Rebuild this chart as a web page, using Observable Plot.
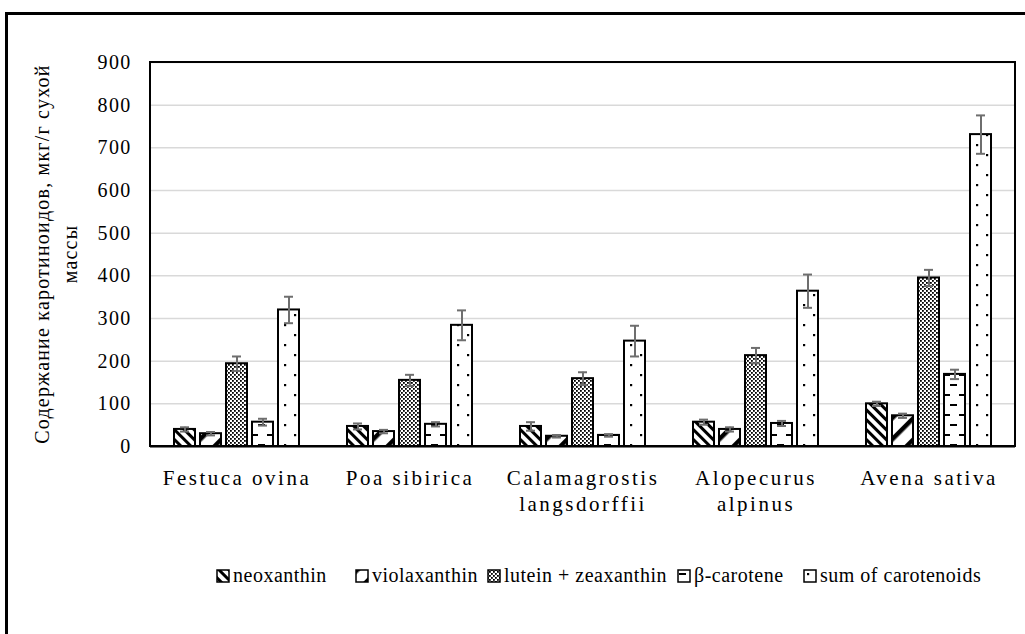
<!DOCTYPE html>
<html>
<head>
<meta charset="utf-8">
<script src="https://cdn.jsdelivr.net/npm/d3@7"></script>
<script src="https://cdn.jsdelivr.net/npm/@observablehq/plot@0.6"></script>
<style>
  html, body { margin: 0; padding: 0; background: #fff; }
  body { width: 1025px; height: 634px; position: relative; overflow: hidden; font-family: "Liberation Serif", "Times New Roman", serif; }
  #frame { position: absolute; left: 5px; top: 12px; width: 1100px; height: 700px; border-left: 3px solid #000; border-top: 3px solid #000; }
  #chart { position: absolute; left: 0; top: 0; }
  #chart svg, #chart svg text { font-family: "Liberation Serif", "Times New Roman", serif !important; }
  #ytitle { position: absolute; left: 56px; top: 254px; width: 520px; transform: translate(-50%, -50%) rotate(-90deg); text-align: center; font-size: 20px; letter-spacing: 1.2px; line-height: 28px; color: #000; white-space: nowrap; }
  .leg { position: absolute; top: 564px; font-family: "Liberation Serif", "Times New Roman", serif; font-size: 20px; letter-spacing: 0.5px; color: #000; white-space: nowrap; display: flex; align-items: center; }
  .leg svg { margin-right: 3px; }
</style>
</head>
<body>
<div id="frame"></div>
<div id="chart"></div>
<div id="ytitle">Содержание каротиноидов, мкг/г сухой<br>массы</div>
<div id="legend"></div>
<script>
// ---- data ----
const species = ["Festuca ovina", "Poa sibirica", "Calamagrostis langsdorffii", "Alopecurus alpinus", "Avena sativa"];
const speciesLabels = ["Festuca ovina", "Poa sibirica", "Calamagrostis\nlangsdorffii", "Alopecurus\nalpinus", "Avena sativa"];
const series = ["neoxanthin", "violaxanthin", "lutein + zeaxanthin", "β-carotene", "sum of carotenoids"];
const neoxanthin = [40, 47, 47, 57, 100];
const neoxanthinErr = [5, 7, 10, 6, 5];
const violaxanthin = [30, 35, 24, 40, 72];
const violaxanthinErr = [4, 4, 3, 5, 5];
const luteinZeaxanthin = [194, 155, 159, 213, 395];
const luteinZeaxanthinErr = [17, 13, 15, 18, 19];
const betaCarotene = [57, 52, 26, 54, 169];
const betaCaroteneErr = [8, 5, 3, 6, 11];
const sumCarotenoids = [320, 284, 247, 364, 731];
const sumCarotenoidsErr = [31, 35, 36, 39, 45];
const yTicks = [0, 100, 200, 300, 400, 500, 600, 700, 800, 900];

const values = [neoxanthin, violaxanthin, luteinZeaxanthin, betaCarotene, sumCarotenoids];
const errors = [neoxanthinErr, violaxanthinErr, luteinZeaxanthinErr, betaCaroteneErr, sumCarotenoidsErr];
const patternIds = ["p-neo", "p-vio", "p-lut", "p-beta", "p-sum"];

const data = [];
species.forEach((s, i) => series.forEach((k, j) => data.push({
  species: s, series: k, value: values[j][i], err: errors[j][i], fill: `url(#${patternIds[j]})`
})));
const labelOf = new Map(species.map((s, i) => [s, speciesLabels[i]]));

const W = 1025, H = 540, ML = 150, MR = 10, MT = 62, MB = 94;
const errColor = "#6e6e6e";
const FONT = "'Liberation Serif', 'Times New Roman', serif";

const svg = Plot.plot({
  width: W, height: H,
  marginLeft: ML, marginRight: MR, marginTop: MT, marginBottom: MB,
  style: { fontFamily: FONT, fontSize: "20px", color: "#000", background: "transparent", overflow: "visible" },
  fx: { domain: species, padding: 0, label: null },
  x: { domain: series, paddingInner: 0.176, paddingOuter: 0.83, axis: null },
  y: { domain: [0, 900], label: null },
  color: { type: "identity" },
  marks: [
    Plot.gridY(yTicks, { stroke: "#d9d9d9", strokeOpacity: 1, strokeWidth: 1.5 }),
    Plot.axisY(yTicks, { tickSize: 0, tickPadding: 19, label: null, fontSize: 20, tickFormat: d => String(d), className: "yax" }),
    Plot.axisFx({ anchor: "bottom", tickSize: 0, tickPadding: 21, label: null, fontSize: 21, lineHeight: 1.2, tickFormat: d => labelOf.get(d), className: "fxax" }),
    Plot.barY(data, { fx: "species", x: "series", y: "value", fill: "fill", stroke: "#000", strokeWidth: 2 }),
    Plot.ruleX(data, { fx: "species", x: "series", y1: d => d.value - d.err, y2: d => d.value + d.err, stroke: errColor, strokeWidth: 2 }),
    Plot.tickY(data, { fx: "species", x: "series", y: d => d.value - d.err, stroke: errColor, strokeWidth: 2, insetLeft: 6, insetRight: 6 }),
    Plot.tickY(data, { fx: "species", x: "series", y: d => d.value + d.err, stroke: errColor, strokeWidth: 2, insetLeft: 6, insetRight: 6 }),
    Plot.ruleY([0], { stroke: "#000", strokeWidth: 2 })
  ]
});

const defs = `
<pattern id="p-neo" patternUnits="userSpaceOnUse" width="7" height="7" patternTransform="rotate(-45)">
  <rect width="7" height="7" fill="#fff"/><rect x="0" y="0" width="3" height="7" fill="#000"/>
</pattern>
<pattern id="p-vio" patternUnits="userSpaceOnUse" width="15" height="15" patternTransform="rotate(45)">
  <rect width="15" height="15" fill="#fff"/><rect x="0" y="0" width="4.5" height="15" fill="#000"/>
</pattern>
<pattern id="p-lut" patternUnits="userSpaceOnUse" width="4" height="4">
  <rect width="4" height="4" fill="#fff"/><rect x="0" y="0" width="1.8" height="1.8" fill="#000"/><rect x="2" y="2" width="1.8" height="1.8" fill="#000"/>
</pattern>
<pattern id="p-beta" patternUnits="userSpaceOnUse" width="16" height="20">
  <rect width="16" height="20" fill="#fff"/><rect x="2" y="4" width="7" height="2" fill="#000"/><rect x="11" y="14" width="7" height="2" fill="#000"/><rect x="-5" y="14" width="7" height="2" fill="#000"/>
</pattern>
<pattern id="p-sum" patternUnits="userSpaceOnUse" width="20" height="20">
  <rect width="20" height="20" fill="#fff"/><rect x="4" y="4" width="2.2" height="2.2" fill="#000"/><rect x="14" y="14" width="2.2" height="2.2" fill="#000"/>
</pattern>`;
d3.select(svg).insert("defs", ":first-child").html(defs);
// plot-area box
d3.select(svg).append("rect")
  .attr("x", ML).attr("y", MT).attr("width", W - ML - MR).attr("height", H - MT - MB)
  .attr("fill", "none").attr("stroke", "#000").attr("stroke-width", 2);
d3.select(svg).selectAll("text").attr("font-family", FONT);
d3.select(svg).selectAll(".yax text").style("letter-spacing", "1.3px");
d3.select(svg).selectAll(".fxax text").style("letter-spacing", "2.5px");

document.getElementById("chart").appendChild(svg);

// legend
const legendX = [216, 355, 487, 677, 803];
const legend = document.getElementById("legend");
series.forEach((s, j) => {
  const item = document.createElement("div");
  item.className = "leg";
  item.style.left = legendX[j] + "px";
  item.innerHTML = `<svg width="14" height="14"><rect x="1" y="1" width="12" height="12" fill="url(#${patternIds[j]})" stroke="#000" stroke-width="1.5"/></svg><span>${s}</span>`;
  legend.appendChild(item);
});
</script>
</body>
</html>
